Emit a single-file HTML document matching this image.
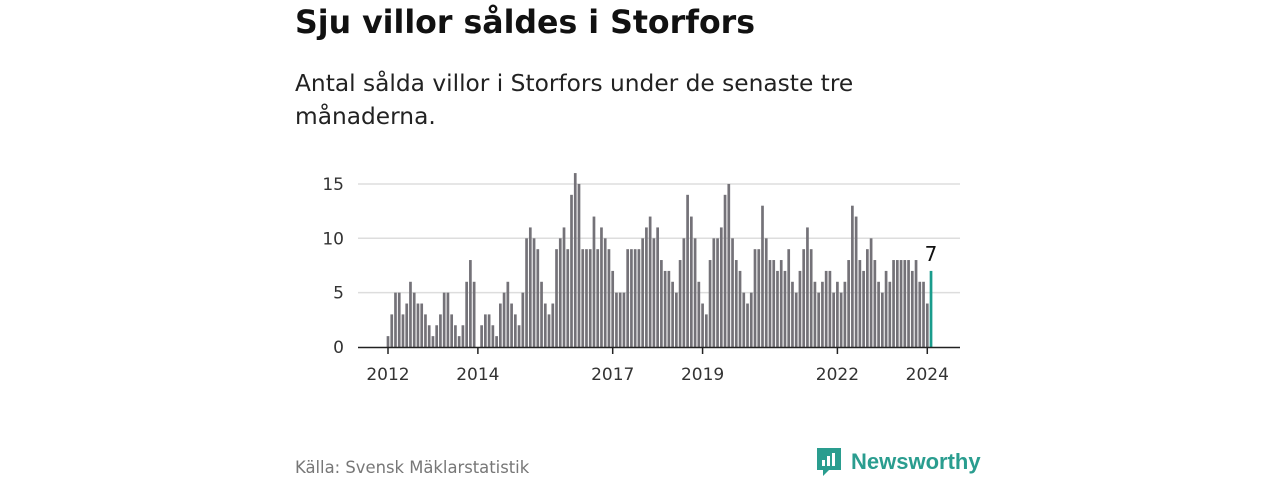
<!DOCTYPE html>
<html><head><meta charset="utf-8"><style>
body{margin:0;width:1280px;height:480px;background:#fff;font-family:"DejaVu Sans","Liberation Sans",sans-serif;overflow:hidden;position:relative}
#title{position:absolute;left:295px;top:5px;font-size:31.6px;font-weight:bold;color:#111;margin:0}
#sub{position:absolute;left:295px;top:67px;font-size:23.3px;line-height:33px;color:#222;width:600px}
#src{position:absolute;left:295px;top:458px;font-size:16.4px;color:#777}
#logo{position:absolute;left:815px;top:446px;display:flex;align-items:center;gap:8px}
#logo span{font-size:22px;font-weight:bold;color:#2a9d8f;font-family:"Liberation Sans",sans-serif}
</style></head><body>
<h1 id="title">Sju villor såldes i Storfors</h1>
<div id="sub">Antal sålda villor i Storfors under de senaste tre månaderna.</div>
<svg id="chart" width="1280" height="480" style="position:absolute;left:0;top:0"></svg>
<div id="src">Källa: Svensk Mäklarstatistik</div>
<div id="logo">
<svg width="28" height="32"><path d="M2 2h24v22h-12l-6 6v-6h-6z" fill="#2a9d8f"/><rect x="7" y="14" width="3" height="6" fill="#fff"/><rect x="12" y="10" width="3" height="10" fill="#fff"/><rect x="17" y="7" width="3" height="13" fill="#fff"/></svg>
<span>Newsworthy</span></div>
<script>
const values=[1,3,5,5,3,4,6,5,4,4,3,2,1,2,3,5,5,3,2,1,2,6,8,6,0,2,3,3,2,1,4,5,6,4,3,2,5,10,11,10,9,6,4,3,4,9,10,11,9,14,16,15,
9,9,9,12,9,11,10,9,7,5,5,5,9,9,9,9,10,11,12,10,11,8,7,7,6,5,8,10,14,12,10,6,4,3,8,10,10,11,14,15,10,8,7,5,4,5,9,9,13,10,
8,8,7,8,7,9,6,5,7,9,11,9,6,5,6,7,7,5,6,5,6,8,13,12,8,7,9,10,8,6,5,7,6,8,8,8,8,8,7,8,6,6,4,7];
const yTicks=[0,5,10,15];
const xTickYears=[2012,2014,2017,2019,2022,2024];
const startYear=2012;
const svg=document.getElementById('chart');const NS='http://www.w3.org/2000/svg';
const x0=388,step=3.745,y0=347,unit=10.87;
const xs=i=>x0+i*step, ys=v=>y0-v*unit;
function el(t,a){const e=document.createElementNS(NS,t);for(const k in a)e.setAttribute(k,a[k]);svg.appendChild(e);return e;}
yTicks.forEach(t=>{
 if(t>0){const g=el('line',{x1:358,x2:960,y1:ys(t),y2:ys(t),stroke:'#ddd','stroke-width':1.5});
 
 }
 const l=el('text',{x:344,y:ys(t)+6,'text-anchor':'end','font-size':17,fill:'#333'});l.textContent=t;
 
 
});
values.forEach((v,i)=>{
 const last=i===values.length-1;
 const r=el('rect',{x:xs(i)-1.35,y:ys(v),width:2.7,height:v*unit,fill:last?'#1a9c8c':'#747278'});
 
 
});
const ax=el('line',{x1:358,x2:960,y1:y0+0.5,y2:y0+0.5,stroke:'#222','stroke-width':1.5});


xTickYears.forEach(yr=>{
 const x=xs((yr-startYear)*12);
 const t=el('line',{x1:x,x2:x,y1:y0,y2:y0+7,stroke:'#222','stroke-width':1.5});
 
 
 const l=el('text',{x:x,y:380,'text-anchor':'middle','font-size':17,fill:'#333'});l.textContent=yr;
 
 
});
const li=values.length-1;
const lab=el('text',{x:xs(li),y:ys(values[li])-10,'text-anchor':'middle','font-size':20,fill:'#111'});lab.textContent=values[li];


</script>
</body></html>
